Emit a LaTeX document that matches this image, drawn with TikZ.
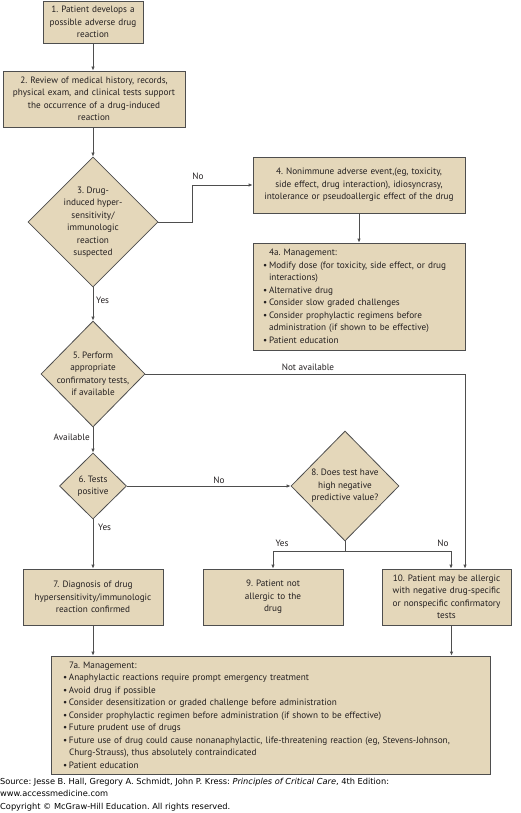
\documentclass[tikz,border=0pt]{standalone}
\usepackage{fontspec}
\setmainfont{PT Sans}
\newfontfamily\srcfont{DejaVu Sans}
\usetikzlibrary{shapes.geometric,arrows.meta,calc}
\definecolor{boxfill}{RGB}{228,215,186}
\definecolor{boxline}{RGB}{78,78,78}
\definecolor{txt}{RGB}{35,31,32}
\newcommand{\bul}{\makebox[6pt][l]{\textbullet}}
\newcommand{\ind}{\hspace*{6pt}}
\frenchspacing
\tikzset{
  box/.style={draw=boxline, fill=boxfill, line width=0.8pt, align=center,
    inner xsep=2pt, inner ysep=1pt, text=txt, font=\fontsize{9.2}{12.5}\selectfont},
  mgmt/.style={box, align=left},
  dia/.style={diamond, draw=boxline, fill=boxfill, line width=0.8pt, inner sep=0pt},
  diatext/.style={align=center, text=txt, font=\fontsize{9.2}{12.5}\selectfont, inner sep=0pt},
  arr/.style={draw=boxline, line width=0.8pt, -{Latex[length=4pt,width=3.5pt]}},
  ln/.style={draw=boxline, line width=0.8pt},
  lab/.style={text=txt, font=\fontsize{9.2}{11}\selectfont, inner sep=0pt},
}
\begin{document}
\begin{tikzpicture}[x=1pt,y=-1pt]
\fill[white] (0,0) rectangle (520,813);
\useasboundingbox (0,0) rectangle (520,813);

% boxes
\node[box, minimum width=100pt, text width=96pt, minimum height=42pt] (b1) at (93,22)
  {1. Patient develops a\\possible adverse drug\\reaction};
\node[box, minimum width=182pt, text width=178pt, minimum height=56pt] (b2) at (94,99)
  {2. Review of medical history, records,\\physical exam, and clinical tests support\\the occurrence of a drug-induced\\reaction};
\node[dia, minimum width=130pt, minimum height=130pt,
  label={[diatext]center:3. Drug-\\induced hyper-\\sensitivity/\\immunologic\\reaction\\suspected}] (d3) at (93,222) {};
\node[box, minimum width=212pt, text width=208pt, minimum height=56pt] (b4) at (359,185)
  {4. Nonimmune adverse event,(eg, toxicity,\\side effect, drug interaction), idiosyncrasy,\\intolerance or pseudoallergic effect of the drug};
\node[mgmt, inner xsep=10pt, minimum width=212pt, text width=192pt, minimum height=107pt] (b4a) at (359,296.5)
  {\ind 4a. Management:\\
   \bul Modify dose (for toxicity, side effect, or drug\\
   \ind interactions)\\
   \bul Alternative drug\\
   \bul Consider slow graded challenges\\
   \bul Consider prophylactic regimens before\\
   \ind administration (if shown to be effective)\\
   \bul Patient education};
\node[dia, minimum width=104pt, minimum height=106pt,
  label={[diatext]center:5. Perform\\appropriate\\confirmatory tests,\\if available}] (d5) at (93,374) {};
\node[dia, minimum width=67pt, minimum height=66pt,
  label={[diatext]center:6. Tests\\positive}] (d6) at (93,486) {};
\node[dia, minimum width=108pt, minimum height=110pt,
  label={[diatext]center:8. Does test have\\high negative\\predictive value?}] (d8) at (345,486) {};
\node[box, minimum width=140pt, text width=136pt, minimum height=56pt] (b7) at (93,597)
  {7. Diagnosis of drug\\hypersensitivity/immunologic\\reaction confirmed};
\node[box, minimum width=140pt, text width=136pt, minimum height=56pt] (b9) at (273,597)
  {9. Patient not\\allergic to the\\drug};
\node[box, minimum width=129pt, text width=125pt, minimum height=56pt] (b10) at (446.5,597)
  {10. Patient may be allergic\\with negative drug-specific\\or nonspecific confirmatory\\tests};
\node[mgmt, inner xsep=12pt, minimum width=439pt, text width=415pt, minimum height=118pt] (b7a) at (270.5,715)
  {\ind 7a. Management:\\
   \bul Anaphylactic reactions require prompt emergency treatment\\
   \bul Avoid drug if possible\\
   \bul Consider desensitization or graded challenge before administration\\
   \bul Consider prophylactic regimen before administration (if shown to be effective)\\
   \bul Future prudent use of drugs\\
   \bul Future use of drug could cause nonanaphylactic, life-threatening reaction (eg, Stevens-Johnson,\\
   \ind Churg-Strauss), thus absolutely contraindicated\\
   \bul Patient education};

% connectors
\draw[arr] (b1.south) -- (b2.north -| b1.south);
\draw[arr] (b2.south -| d3.north) -- (d3.north);
\draw[arr] (d3.east) -- ++(34,0) |- (b4.west);
\node[lab] (lno3) at (198,176) {No};
\draw[arr] (b4.south) -- (b4a.north);
\draw[arr] (d3.south) -- (d5.north);
\node[lab, anchor=west] (lyes3) at (96,300) {Yes};
\draw[arr] (d5.east) -| ([xshift=18.5pt]b10.north);
\node[lab] (lna) at (308,367) {Not available};
\draw[arr] (d5.south) -- (d6.north);
\node[lab, anchor=east] (lav) at (90,437) {Available};
\draw[arr] (d6.east) -- (d8.west);
\node[lab] (lno6) at (219,480) {No};
\draw[arr] (d6.south) -- (b7.north);
\node[lab, anchor=west] (lyes6) at (98,527) {Yes};
\draw[ln] (d8.south) -- ++(0,10) coordinate (d8j);
\draw[arr] (d8j) -| (b9.north);
\draw[arr] (d8j) -| ([xshift=4.5pt]b10.north);
\node[lab] (lyes8) at (282,543) {Yes};
\node[lab] (lno8) at (443,543) {No};
\draw[arr] (b7.south) -- (b7.south |- b7a.north);
\draw[arr] ([xshift=5pt]b10.south) -- ([xshift=5pt]b10.south |- b7a.north);

% source
\node[anchor=north west, inner sep=0pt, align=left, text=black,
  font=\srcfont\fontsize{8.25}{12.5}\selectfont] (src) at (0,778)
  {Source: Jesse B. Hall, Gregory A. Schmidt, John P. Kress: \textit{Principles of Critical Care}, 4th Edition:\\
   www.accessmedicine.com\\
   Copyright © McGraw-Hill Education. All rights reserved.};
\end{tikzpicture}
\end{document}
